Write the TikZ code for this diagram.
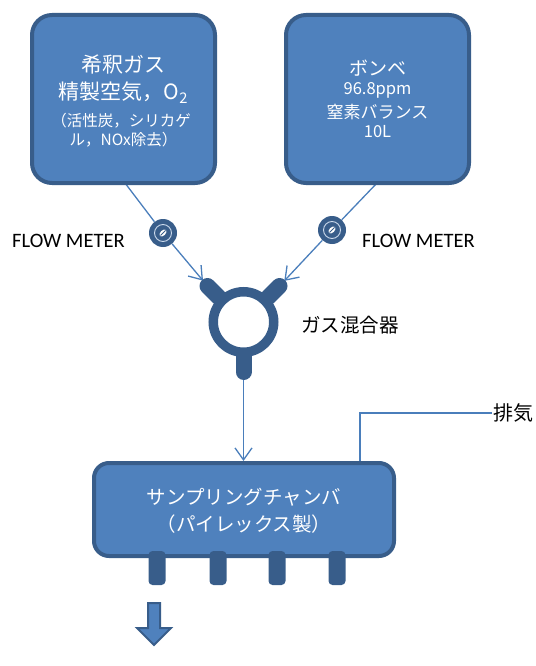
\documentclass[tikz,border=0pt]{standalone}
\usepackage{fontspec}
\setmainfont{Carlito}
\newfontfamily\jp{Noto Sans CJK JP}
\usetikzlibrary{arrows.meta,calc}
\definecolor{boxfill}{HTML}{4F81BD}
\definecolor{boxdraw}{HTML}{385D8A}
\definecolor{linec}{HTML}{4A7EBB}
\tikzset{
  srcbox/.style={rectangle, rounded corners=20pt, fill=boxfill, draw=boxdraw, line width=4pt,
    minimum width=183pt, minimum height=168pt, inner sep=0pt},
  chbox/.style={rectangle, rounded corners=15pt, fill=boxfill, draw=boxdraw, line width=4pt,
    minimum width=300pt, minimum height=93pt, inner sep=0pt},
  wtxt/.style={text=white, anchor=base, inner sep=0pt},
  btxt/.style={text=black, anchor=base west, inner sep=0pt},
  conn/.style={draw=linec, line width=1.3pt},
  arr/.style={conn, -{Straight Barb[length=12pt,width=17pt,line width=1.3pt]}},
  meter/.style={circle, fill=boxdraw, minimum size=28pt, inner sep=0pt},
  mixer/.style={circle, draw=boxdraw, line width=9.5pt, minimum size=60.5pt, inner sep=0pt},
  arm/.style={draw=boxdraw, line width=16pt, line cap=round},
  leg/.style={fill=boxdraw, rounded corners=4pt},
}
\begin{document}
\begin{tikzpicture}[x=1pt,y=-1pt]
\useasboundingbox (0,0) rectangle (535,666);

% connector coordinates
\coordinate (l0) at (125,183);
\coordinate (r0) at (377,183);
\coordinate (a1) at (207.5,286);
\coordinate (a2) at (279.5,286);
\coordinate (m3) at (243.5,372);
\coordinate (ex) at (360,413);

% flow meters
\node[meter] (fm1) at (163,233) {};
\node[meter] (fm2) at (332,230) {};
\foreach \m in {fm1,fm2}{
  \draw[white!70!boxfill, line width=0.9pt] (\m) circle (8.5pt);
  \fill[white, rotate around={45:(\m)}] (\m) ellipse (4.2pt and 2.6pt);
  \draw[boxdraw, line width=0.9pt] ($(\m)+(-2.5,2.5)$) -- ($(\m)+(2.5,-2.5)$);
}

% lines from sources
\draw[conn] (l0) -- (fm1);
\draw[conn] (r0) -- (fm2);
\draw[arr, shorten >=7pt] (fm1) -- (a1);
\draw[arr, shorten >=7pt] (fm2) -- (a2);

% source boxes
\node[srcbox] (lbox) at (123.5,99) {};
\node[srcbox] (rbox) at (377.5,99) {};

\node[wtxt, font=\jp\fontsize{21}{21}\selectfont] (lt1) at (123.5,73) {希釈ガス};
\node[wtxt, font=\jp\fontsize{21}{21}\selectfont] (lt2) at (123.5,100) {精製空気，O\textsubscript{2}};
\node[wtxt, font=\jp\fontsize{15.5}{15.5}\selectfont] (lt3) at (121,126) {（活性炭，シリカゲ};
\node[wtxt, font=\jp\fontsize{15.5}{15.5}\selectfont] (lt4) at (123.5,146) {ル，NOx除去）};

\node[wtxt, font=\jp\fontsize{19}{19}\selectfont] (rt1) at (377.5,76) {ボンベ};
\node[wtxt, font=\jp\fontsize{16.5}{16.5}\selectfont] (rt2) at (377.5,95) {96.8ppm};
\node[wtxt, font=\jp\fontsize{17}{17}\selectfont] (rt3) at (377.5,119) {窒素バランス};
\node[wtxt, font=\jp\fontsize{16.5}{16.5}\selectfont] (rt4) at (377.5,138) {10L};

% flow meter labels
\node[btxt, font=\fontsize{20.5}{20.5}\selectfont] (fl1) at (12,247) {FLOW METER};
\node[btxt, font=\fontsize{20.5}{20.5}\selectfont] (fl2) at (362,247) {FLOW METER};

% mixer
\node[mixer] (mix) at (243.5,322) {};
\draw[arm] (mix.135) -- (a1);
\draw[arm] (mix.45) -- (a2);
\draw[arm] (mix.south) -- (m3);
\node[btxt, font=\jp\fontsize{19.5}{19.5}\selectfont] (mixl) at (301,332) {ガス混合器};

% chamber
\node[chbox] (ch) at (244,509.5) {};
\draw[arr, shorten <=8pt] (m3) -- (m3 |- ch.north);
\draw[conn] (ch.north -| ex) -- (ex) -- (492,413);
\node[btxt, font=\jp\fontsize{20}{20}\selectfont] (exl) at (493,420) {排気};

\node[wtxt, font=\jp\fontsize{19.5}{19.5}\selectfont] (ct1) at (244,504) {サンプリングチャンバ};
\node[wtxt, font=\jp\fontsize{19.5}{19.5}\selectfont] (ct2) at (244,531) {（パイレックス製）};

% legs
\foreach \x in {157,218,277,337}{
  \fill[leg] (\x-8.5,551) rectangle (\x+8.5,585);
}

% down arrow
\draw[fill=boxfill, draw=boxdraw, line width=2pt, line join=miter]
  (148,603) -- (160,603) -- (160,628) -- (171,628) -- (154,645) -- (137,628) -- (148,628) -- cycle;
\end{tikzpicture}
\end{document}
